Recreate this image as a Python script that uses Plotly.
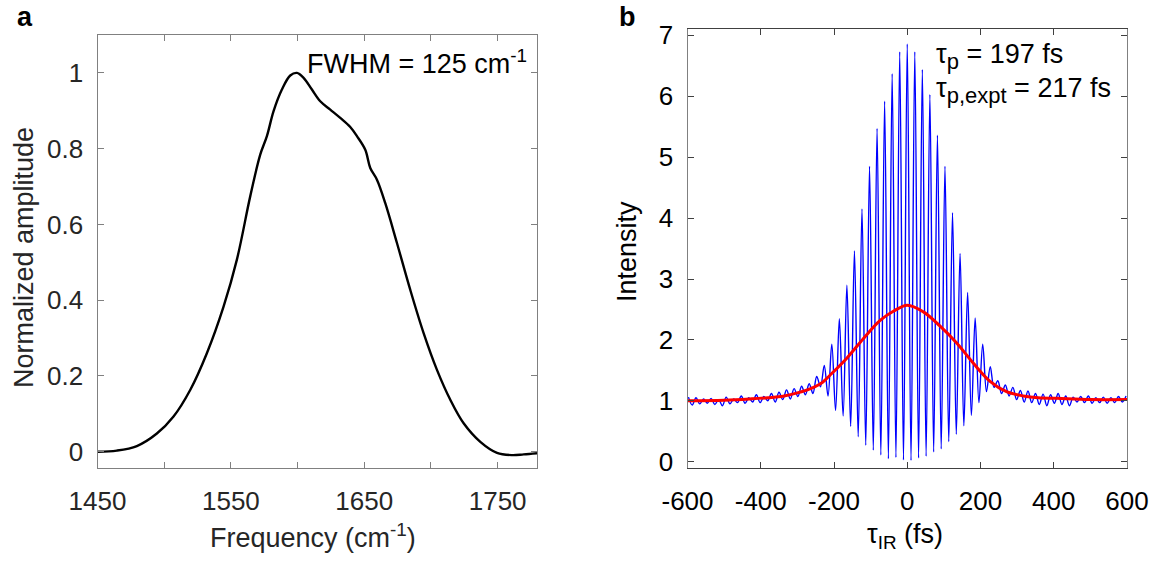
import plotly.graph_objects as go

W, H = 1161, 565

# ---------- panel a : spectrum ----------
freq = [1450, 1464.5, 1479.5, 1494.5, 1507, 1519.5, 1532, 1544.5, 1554.5, 1564.5,
        1572, 1577, 1582, 1588.25, 1594.5, 1599.5, 1604.5, 1610.75, 1617, 1624.5,
        1632, 1639.5, 1644.5, 1650.75, 1654.5, 1659.5, 1665.75, 1674.5, 1684.5,
        1694.5, 1704.5, 1714.5, 1724.5, 1737, 1749.5, 1760.75, 1769.5, 1779.5]
amp = [0.0, 0.003, 0.015, 0.048, 0.093, 0.163, 0.26, 0.383, 0.507, 0.674,
       0.784, 0.833, 0.899, 0.956, 0.993, 1.0, 0.987, 0.956, 0.925, 0.903,
       0.881, 0.857, 0.833, 0.797, 0.749, 0.718, 0.656, 0.551, 0.427,
       0.313, 0.216, 0.137, 0.075, 0.026, -0.003, -0.009, -0.007, -0.004]

freq_ticks = [1450, 1500, 1550, 1600, 1650, 1700, 1750]
freq_ticktext = ["1450", "", "1550", "", "1650", "", "1750"]
amp_ticks = [0, 0.2, 0.4, 0.6, 0.8, 1]
amp_ticktext = ["0", "0.2", "0.4", "0.6", "0.8", "1"]

# ---------- panel b : interferometric autocorrelation ----------
# alternating fringe maxima / minima (half-fringe sampling, first sample at -597.4 fs)
delay_start = -597.4
half_fringe = 10.3
blue_left_wing = [1.06, 0.93, 1.05, 0.95, 1.03, 0.96, 1.04, 0.94, 1.02, 0.92,
                  1.06, 0.95, 1.03, 0.97, 1.08, 0.96, 1.05, 0.98, 1.10, 0.97,
                  1.07, 1.00, 1.12, 0.98, 1.14, 1.02, 1.18, 1.03, 1.20, 1.07,
                  1.24, 1.10, 1.28, 1.12]
blue_center = [1.40, 1.23, 1.58, 1.08, 1.93, 0.84, 2.35, 0.75, 2.90, 0.58,
               3.46, 0.41, 4.15, 0.27, 4.85, 0.19, 5.47, 0.11, 5.92, 0.05,
               6.37, 0.07, 6.73, 0.03, 6.86, 0.02, 6.73, 0.06, 6.44, 0.09,
               6.03, 0.16, 5.36, 0.21, 4.85, 0.33, 4.09, 0.45, 3.42, 0.59,
               2.78, 0.76, 2.36, 0.97, 1.93, 1.15, 1.56, 1.22, 1.33]
blue_right_wing = [1.12, 1.26, 1.08, 1.22, 1.02, 1.17, 0.98, 1.16, 0.97, 1.12,
                   0.94, 1.11, 0.92, 1.10, 0.96, 1.12, 0.94, 1.08, 0.92, 1.06,
                   0.98, 1.07, 0.97, 1.08, 0.96, 1.05, 0.97, 1.06, 0.96, 1.05,
                   0.97, 1.07, 0.98, 1.08]
blue_vals = blue_left_wing + blue_center + blue_right_wing

t_red = [-600, -500, -430, -380, -336, -300, -264, -232, -211, -165, -120, -74,
         -38, 0, 44, 89, 135, 180, 226, 271, 317, 358, 408, 500, 600]
v_red = [1.00, 1.01, 1.03, 1.05, 1.08, 1.13, 1.20, 1.30, 1.42, 1.70, 2.02, 2.32,
         2.47, 2.57, 2.46, 2.23, 1.95, 1.62, 1.32, 1.15, 1.08, 1.05, 1.04, 1.02, 1.02]

tau_ticks = [-600, -400, -200, 0, 200, 400, 600]
tau_ticktext = ["-600", "-400", "-200", "0", "200", "400", "600"]
int_ticks = [0, 1, 2, 3, 4, 5, 6, 7]

FONT = "Liberation Sans, Arial, sans-serif"
FS = 26
FT = 27

fig = go.Figure()
fig.add_trace(go.Scatter(x=freq, y=amp, mode="lines",
                         line=dict(color="black", width=2.4, shape="spline"),
                         xaxis="x", yaxis="y", showlegend=False))
fig.add_trace(go.Scatter(x0=delay_start, dx=half_fringe, y=blue_vals, mode="lines",
                         line=dict(color="rgb(0,0,255)", width=1.4, shape="spline", smoothing=1),
                         xaxis="x2", yaxis="y2", showlegend=False))
fig.add_trace(go.Scatter(x=t_red, y=v_red, mode="lines",
                         line=dict(color="rgb(255,0,0)", width=3, shape="spline"),
                         xaxis="x2", yaxis="y2", showlegend=False))

def px_x(p):
    return p / W

def px_y(p):
    return 1 - p / H

axis_common = dict(showgrid=False, zeroline=False, ticks="inside", ticklen=6,
                   mirror="allticks", showline=True, linewidth=1.2, automargin=False)

fig.update_layout(
    width=W, height=H, margin=dict(l=0, r=0, t=0, b=0, autoexpand=False),
    paper_bgcolor="white", plot_bgcolor="white",
    font=dict(family=FONT, size=FS, color="#262626"),
    xaxis=dict(domain=[px_x(97.5), px_x(537)], range=[1450, 1779.5],
               tickvals=freq_ticks, ticktext=freq_ticktext,
               linecolor="#808080", tickcolor="#808080",
               tickfont=dict(size=FS, color="#262626"), ticklabelstandoff=10,
               anchor="y", **axis_common),
    yaxis=dict(domain=[px_y(468), px_y(35)], range=[-0.043, 1.1],
               tickvals=amp_ticks, ticktext=amp_ticktext,
               linecolor="#808080", tickcolor="#808080",
               tickfont=dict(size=FS, color="#262626"), ticklabelstandoff=8,
               anchor="x", **axis_common),
    xaxis2=dict(domain=[px_x(687.5), px_x(1127)], range=[-600, 600],
                tickvals=tau_ticks, ticktext=tau_ticktext,
                linecolor="#404040", tickcolor="#404040",
                tickfont=dict(size=FS, color="black"), ticklabelstandoff=10,
                anchor="y2", **axis_common),
    yaxis2=dict(domain=[px_y(467.8), px_y(29.3)], range=[-0.1, 7.1],
                tickvals=int_ticks, linecolor="#808080", tickcolor="#404040",
                tickfont=dict(size=FS, color="black"), ticklabelstandoff=8,
                anchor="x2", **axis_common),
)

ann = []
def add(text, x, y, xa="center", ya="middle", size=FT, color="#262626", angle=0):
    ann.append(dict(text=text, x=px_x(x), y=px_y(y), xref="paper", yref="paper",
                    xanchor=xa, yanchor=ya, showarrow=False, textangle=angle,
                    font=dict(family=FONT, size=size, color=color)))

add("<b>a</b>", 25, 17, size=27, color="black")
add("<b>b</b>", 627, 17, size=27, color="black")
add("Normalized amplitude", 24, 258, angle=-90)
add("Intensity", 627, 252, angle=-90, color="black")
add("Frequency (cm<sup>-1</sup>)", 313, 536)
add("τ<sub>IR</sub> (fs)", 905, 536, color="black")
add("FWHM = 125 cm<sup>-1</sup>", 529, 62, xa="right", color="black")
add("τ<sub><span style='font-size:22px'>p</span></sub> = 197 fs", 934, 57, xa="left", color="black")
add("τ<sub><span style='font-size:22px'>p,expt</span></sub> = 217 fs", 934, 91, xa="left", color="black")
fig.update_layout(annotations=ann)

fig.write_html("out.html")
